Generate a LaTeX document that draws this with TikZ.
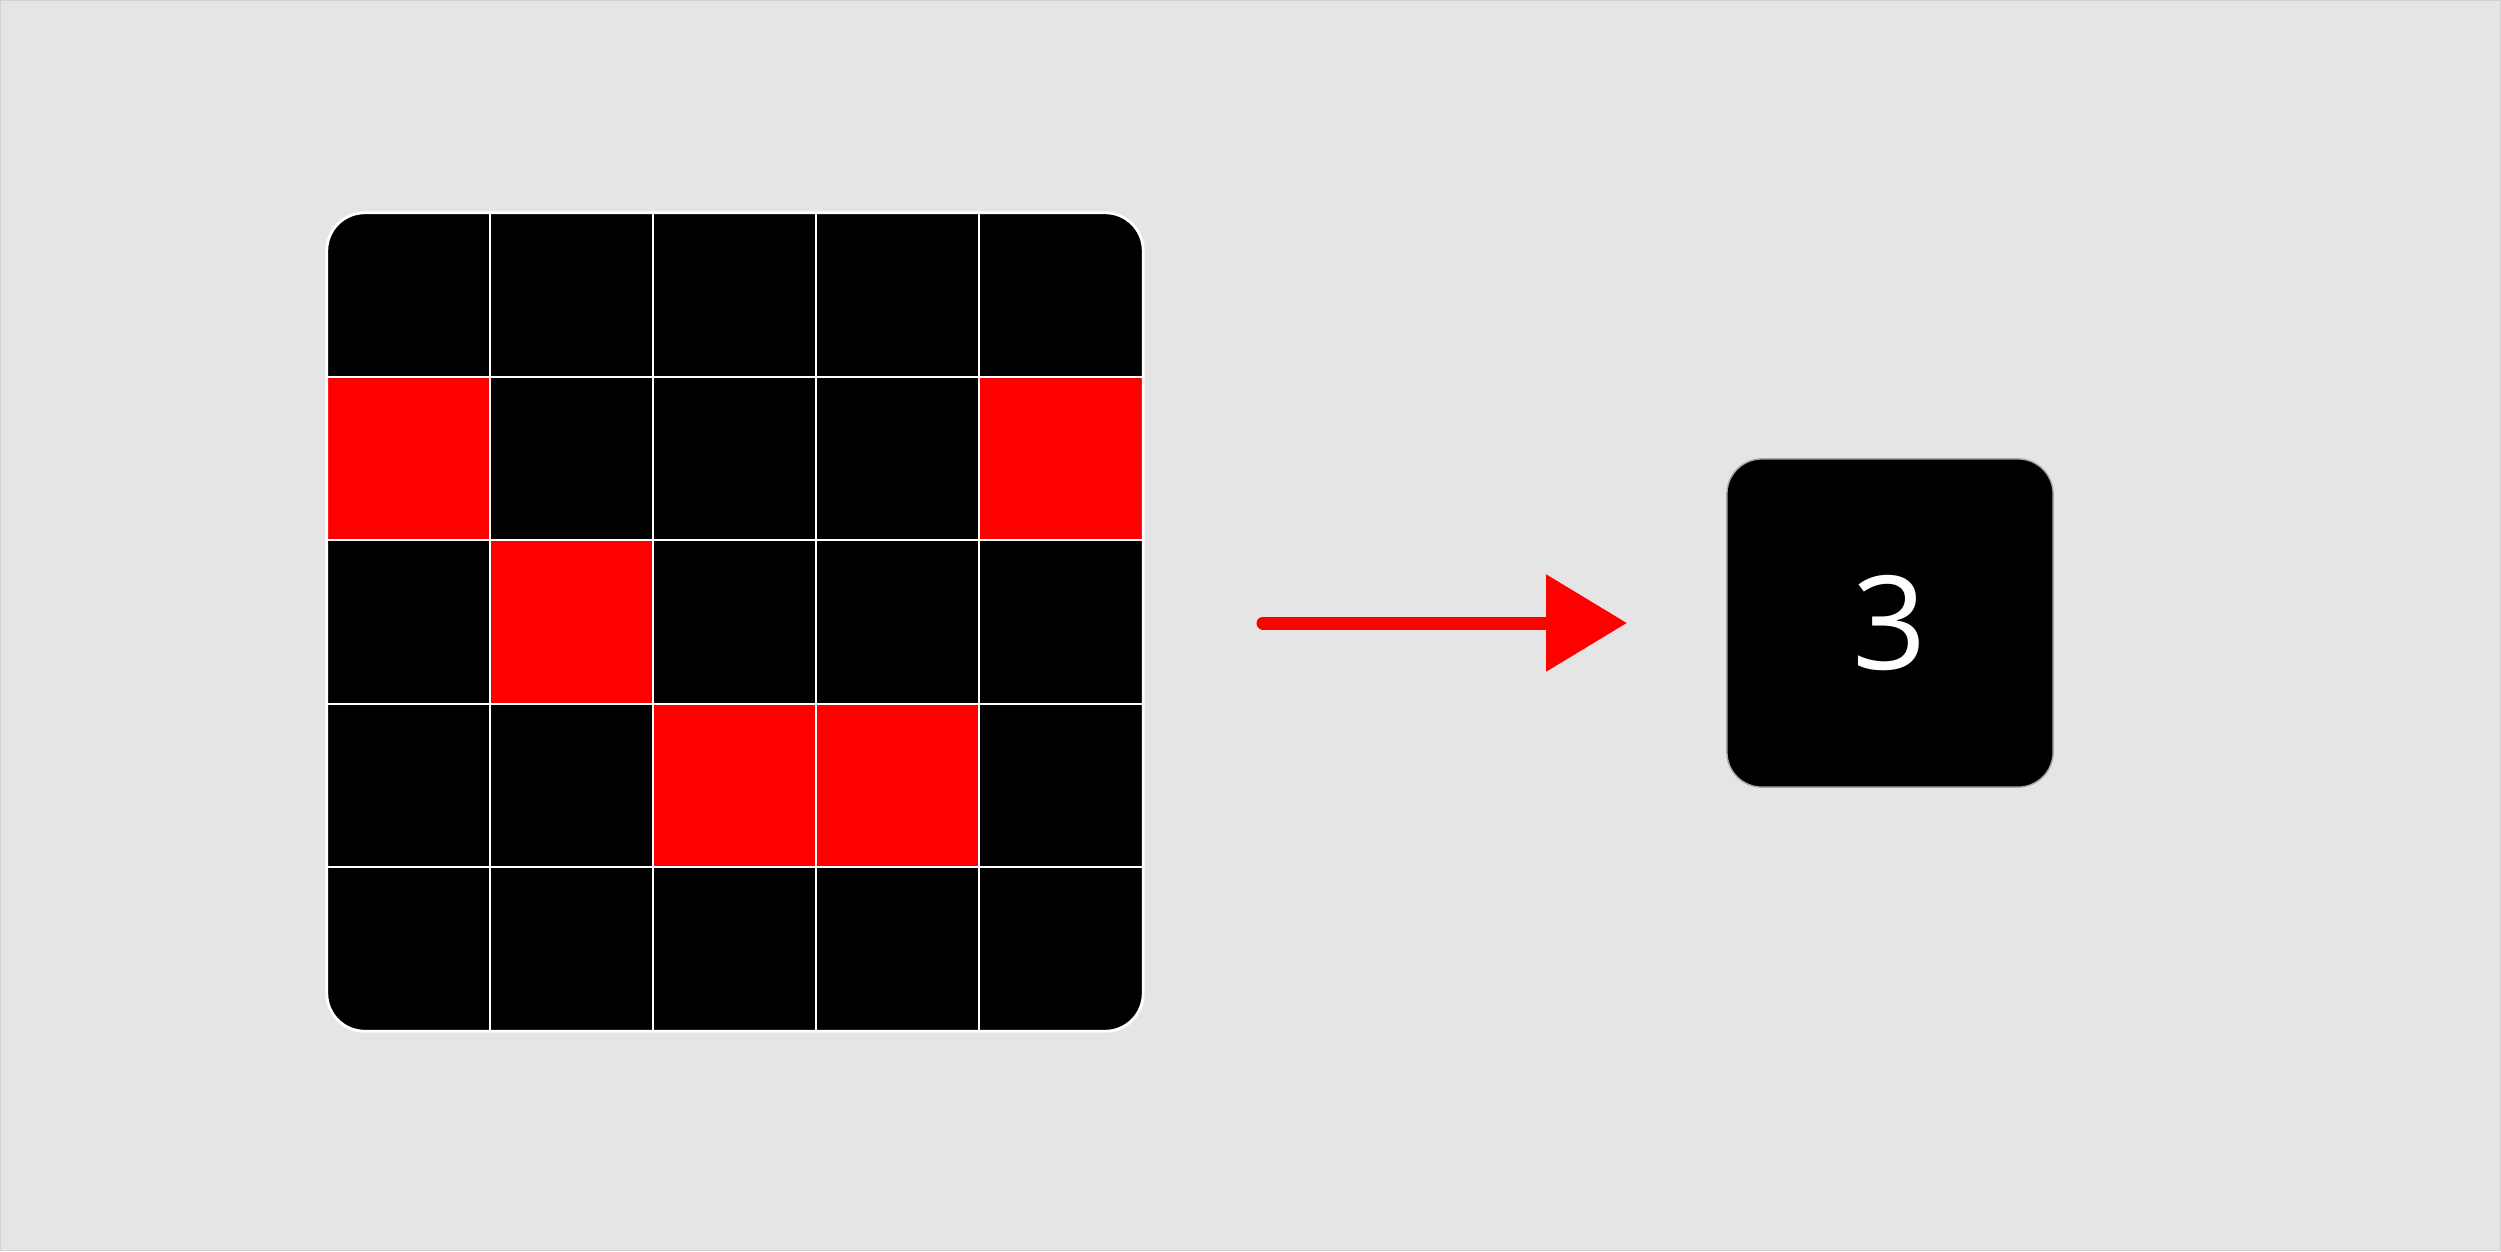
\documentclass[tikz,border=0pt]{standalone}
\usepackage{fontspec}
\setmainfont{Open Sans}
\usetikzlibrary{arrows.meta}
\definecolor{bg}{HTML}{E5E5E5}
\definecolor{edge}{HTML}{D2D2D2}
\definecolor{hot}{HTML}{FF0000}
\tikzset{
  hotcell/.style={fill=hot},
  gridline/.style={white, line width=0.6pt},
  resultbox/.style={draw=gray!70, line width=0.4pt, fill=black, rounded corners=0.35cm,
    minimum width=3.26cm, minimum height=3.28cm, inner sep=0pt, text=white,
    font=\fontsize{37}{44}\selectfont},
  flow/.style={hot, line width=3.7pt, line cap=round, -{Triangle[length=23pt, width=26.7pt]}}
}
\begin{document}
\begin{tikzpicture}[x=0.01cm, y=-0.01cm]
\useasboundingbox (0,0) rectangle (2501,1251);
\fill[bg] (0,0) rectangle (2501,1251);
\draw[edge, line width=0.5pt] (0.5,0.5) rectangle (2500.5,1250.5);
% grid
\begin{scope}
\clip[rounded corners=0.38cm] (327,213) rectangle (1143,1031);
\fill[black] (327,213) rectangle (1143,1031);
\fill[hotcell] (327,377) rectangle (490,540);
\fill[hotcell] (979,377) rectangle (1143,540);
\fill[hotcell] (490,540) rectangle (653,704);
\fill[hotcell] (653,704) rectangle (979,867);
\foreach \xx in {490,653,816,979} \draw[gridline] (\xx,213) -- (\xx,1031);
\foreach \yy in {377,540,704,867} \draw[gridline] (327,\yy) -- (1143,\yy);
\end{scope}
\node[draw=white, line width=0.8pt, rounded corners=0.38cm, minimum width=8.16cm, minimum height=8.18cm, inner sep=0pt] (grid) at (735,622) {};
% result
\node[resultbox] (res) at (1890,623) {3};
% arrow
\coordinate (a0) at (1263,623);
\coordinate (a1) at (1627,623);
\draw[flow] (a0) -- (a1);
\end{tikzpicture}
\end{document}
